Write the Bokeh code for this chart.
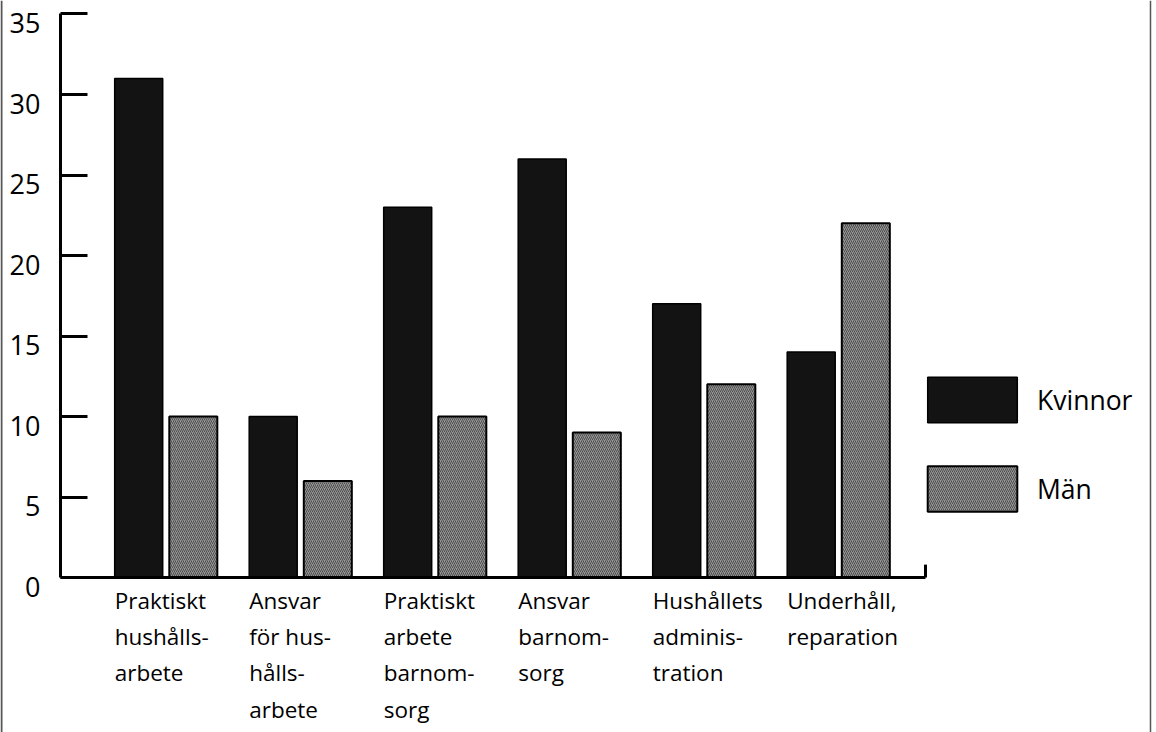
from bokeh.plotting import figure
from bokeh.models import FixedTicker, Range1d, Legend, LegendItem, Span
from bokeh.core.properties import value
from bokeh.embed import file_html
from bokeh.resources import INLINE

categories = [
    "Praktiskt\nhushålls-\narbete",
    "Ansvar\nför hus-\nhålls-\narbete",
    "Praktiskt\narbete\nbarnom-\nsorg",
    "Ansvar\nbarnom-\nsorg",
    "Hushållets\nadminis-\ntration",
    "Underhåll,\nreparation",
]
kvinnor = [31, 10, 23, 26, 17, 14]
man = [10, 6, 10, 9, 12, 22]
series = ["Kvinnor", "Män"]
y_ticks = [0, 5, 10, 15, 20, 25, 30, 35]

FONT = "Open Sans"
W, H = 1156, 732
pos = list(range(len(categories)))
off = 0.203          # half distance between paired bar centres (group units)
bw = 0.357           # bar width (group units)
# layout: plot frame covers the whole canvas, axes are placed with fixed_location
x_lo, x_hi = -1.2305, 7.3643
axis_start, axis_end = -0.7844, 5.6468
y_lo, y_hi = -9.627, 35.8385

p = figure(width=W, height=H, output_backend="svg", toolbar_location=None,
           x_range=Range1d(x_lo, x_hi), y_range=Range1d(y_lo, y_hi),
           min_border=0)
p.outline_line_color = None
p.xgrid.grid_line_color = None
p.ygrid.grid_line_color = None
p.background_fill_color = "white"
p.border_fill_color = "white"

r1 = p.vbar(x=[i - off for i in pos], top=kvinnor, bottom=0, width=bw,
            fill_color="#131313", line_color="black", line_width=1.5)
r2 = p.vbar(x=[i + off for i in pos], top=man, bottom=0, width=bw,
            fill_color="#959595", line_color="black", line_width=2,
            hatch_pattern="right_diagonal_line", hatch_color="#1e1e1e",
            hatch_alpha=0.6, hatch_scale=4, hatch_weight=1)

# x axis (line only) at y = 0
xa = p.xaxis[0]
xa.fixed_location = 0
xa.ticker = FixedTicker(ticks=[])
xa.bounds = (axis_start, axis_end)
xa.axis_line_width = 3
xa.axis_line_color = "black"
xa.major_tick_line_color = None
xa.minor_tick_line_color = None
xa.major_label_text_color = None

# end tick of the x axis
p.segment(x0=[axis_end], y0=[0], x1=[axis_end], y1=[0.8], line_width=3, line_color="black")

# y axis with inward ticks (labels drawn below as text)
ya = p.yaxis[0]
ya.fixed_location = axis_start
ya.bounds = (0, 35)
ya.ticker = FixedTicker(ticks=y_ticks)
ya.axis_line_width = 3
ya.axis_line_color = "black"
ya.major_tick_in = 27
ya.major_tick_out = 0
ya.major_tick_line_width = 3
ya.major_tick_line_color = "black"
ya.minor_tick_line_color = None
ya.major_label_text_color = None

# y tick labels (hanging just below each tick as in the original)
p.text(x=[axis_start] * len(y_ticks), y=y_ticks, text=[str(t) for t in y_ticks],
       x_offset=-20, y_offset=-1, text_align="right", text_baseline="top",
       text_font=value(FONT), text_font_size="27px", text_color="black")

# category labels, left aligned at the first bar of each group
label_x = [i - off - bw / 2 for i in pos]
p.text(x=label_x, y=[0] * len(pos), text=categories,
       x_offset=0, y_offset=7, text_align="left", text_baseline="top",
       text_font=value(FONT), text_font_size="22.5px", text_color="black",
       text_line_height=1.175)

# scan border lines of the original page
p.add_layout(Span(location=x_lo + 1.0 / 134.5, dimension="height",
                  line_color="#555555", line_width=2))
p.add_layout(Span(location=x_lo + 1150.0 / 134.5, dimension="height",
                  line_color="#555555", line_width=1.5))

legend = Legend(items=[LegendItem(label=series[0], renderers=[r1]),
                       LegendItem(label=series[1], renderers=[r2])],
                location=(916, 215), glyph_width=112, glyph_height=57,
                spacing=32, label_standoff=9, padding=0, margin=0,
                border_line_color=None, background_fill_alpha=0,
                label_text_font=FONT, label_text_font_size="26.5px",
                label_text_color="black")
p.add_layout(legend)

open("out.html", "w").write(file_html(p, INLINE))
